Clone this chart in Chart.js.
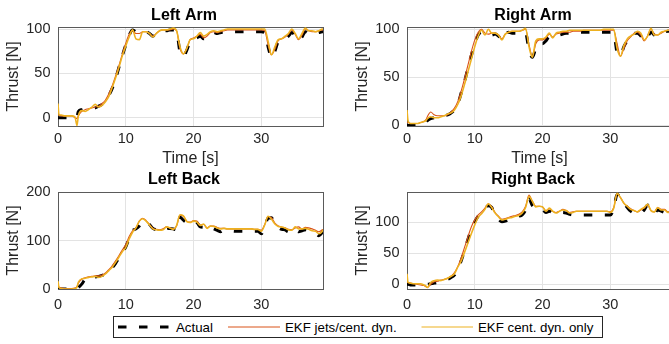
<!DOCTYPE html>
<html lang="en">
<head>
<meta charset="UTF-8">
<title>Thrust estimates</title>
<script src="https://cdn.jsdelivr.net/npm/chart.js"></script>
<style>
  html, body { margin: 0; padding: 0; background: #fff; overflow: hidden; }
  #fig { position: relative; width: 669px; height: 344px; overflow: hidden; }
  #fig canvas { position: absolute; }
  #legend { position: absolute; left: 113px; top: 316px; width: 490px; height: 22px;
            box-sizing: border-box; border: 1px solid #262626; background: #fff; }
  #legend text { font: 13.3px 'Liberation Sans', Arial, Helvetica, sans-serif; fill: #000; }
</style>
</head>
<body>
<div id="fig">
  <canvas id="leftArm" width="368" height="170" style="left:0;top:0"></canvas>
  <canvas id="rightArm" width="368" height="170" style="left:349px;top:0"></canvas>
  <canvas id="leftBack" width="368" height="178" style="left:0;top:166px"></canvas>
  <canvas id="rightBack" width="368" height="178" style="left:349px;top:166px"></canvas>
  <div id="legend">
    <svg width="488" height="20" style="display:block">
      <line x1="4" y1="10" x2="54.5" y2="10" stroke="#000" stroke-width="3" stroke-dasharray="8.5 12.5"/>
      <text x="62" y="10" dominant-baseline="central">Actual</text>
      <line x1="114" y1="10" x2="166" y2="10" stroke="#D95319" stroke-width="1"/>
      <text x="171" y="10" dominant-baseline="central">EKF jets/cent. dyn.</text>
      <line x1="307.5" y1="10" x2="359" y2="10" stroke="#EDB120" stroke-width="1.2"/>
      <text x="364" y="10" dominant-baseline="central">EKF cent. dyn. only</text>
    </svg>
  </div>
</div>

<script>
// time samples [s], shared by all panels
const T = [
  0, 0.15, 0.5, 1, 1.5, 2, 2.5, 2.8,
  3, 3.5, 4, 4.5, 5, 5.5, 6, 6.5, 7, 7.5,
  8, 8.5, 9, 9.5, 10, 10.5, 11, 11.5, 12, 12.5,
  13, 13.5, 14, 14.5, 15, 15.5, 16, 16.5, 17, 17.5,
  18, 18.5, 19, 19.5, 20, 20.5, 21, 21.5, 22, 22.5,
  23, 23.5, 24, 24.5, 25, 25.5, 26, 26.5, 27, 27.5,
  28, 28.5, 29, 29.5, 30, 30.5, 31, 31.5, 32, 32.5,
  33, 33.5, 34, 34.5, 35, 35.5, 36, 36.5, 37, 37.5,
  38, 38.5, 39, 39.1
];
const X_TICKS = [0, 10, 20, 30];

// Left Arm thrust [N]
const LA_ACTUAL = [
  0, 0, 0, 0, 0, 0, 0, 1,
  7, 9, 10, 10, 10, 11, 13, 15, 19, 25,
  33, 44, 57, 70, 82, 93, 99, 97, 96, 97,
  97, 95, 92, 95, 97, 98, 98, 99, 99, 97,
  74, 69, 76, 86, 89, 90, 92, 89, 91, 95,
  96, 95, 96, 97, 97, 97, 97, 97, 97, 97,
  97, 97, 97, 97, 97, 96, 80, 68, 75, 86,
  88, 89, 92, 96, 92, 87, 91, 97, 95, 94,
  95, 96, 97, 97
];
const LA_JETS = [
  3, 3, 2, 2, 2, 2, 0, -1,
  2, 7, 9, 10, 11, 12, 13, 16, 20, 27,
  36, 47, 59, 72, 84, 94, 98, 95, 95, 97,
  97, 95, 92, 95, 98, 99, 99, 99, 100, 98,
  78, 72, 78, 88, 90, 92, 94, 90, 92, 96,
  97, 96, 97, 98, 99, 99, 99, 99, 99, 99,
  99, 99, 99, 99, 99, 98, 82, 71, 77, 87,
  89, 91, 94, 99, 94, 88, 93, 100, 98, 97,
  97, 98, 99, 99
];
const LA_CENT = [
  16, 3, 3, 2, 2, 2, 1, -9,
  2, 8, 7, 9, 12, 15, 12, 14, 18, 24,
  34, 45, 57, 70, 81, 91, 99, 89, 88, 97,
  97, 95, 91, 95, 98, 99, 99, 100, 101, 98,
  80, 72, 78, 88, 89, 92, 96, 92, 94, 97,
  98, 97, 98, 99, 100, 100, 100, 100, 100, 100,
  100, 100, 100, 100, 100, 100, 86, 71, 80, 88,
  89, 92, 95, 100, 95, 89, 95, 101, 98, 98,
  97, 98, 100, 100
];

// Right Arm thrust [N]
const RA_ACTUAL = [
  0, 0, 0, 0, 0, 0, 1, 3,
  5, 7, 8, 9, 9, 10, 11, 13, 16, 22,
  34, 46, 60, 73, 85, 94, 97, 95, 94, 94,
  95, 93, 89, 95, 97, 96, 96, 96, 96, 96,
  78, 71, 80, 85, 85, 88, 92, 92, 93, 94,
  95, 96, 96, 96, 97, 97, 97, 97, 97, 97,
  97, 97, 97, 97, 97, 96, 76, 73, 82, 88,
  92, 96, 96, 93, 88, 92, 97, 94, 93, 94,
  97, 98, 98, 98
];
const RA_JETS = [
  3, 3, 2, 2, 2, 3, 4, 6,
  9, 14, 11, 10, 10, 10, 11, 14, 18, 25,
  36, 49, 63, 77, 89, 97, 100, 96, 95, 96,
  96, 94, 90, 95, 97, 98, 98, 98, 99, 100,
  84, 72, 85, 89, 89, 91, 95, 92, 95, 96,
  97, 97, 97, 98, 98, 98, 99, 99, 99, 99,
  99, 99, 99, 99, 99, 99, 85, 72, 80, 88,
  92, 96, 97, 94, 88, 93, 100, 95, 94, 96,
  98, 99, 99, 99
];
const RA_CENT = [
  16, 5, 2, 2, 2, 3, 4, 5,
  7, 9, 8, 8, 9, 10, 12, 13, 16, 22,
  31, 43, 56, 69, 82, 93, 99, 94, 100, 96,
  96, 94, 89, 95, 97, 98, 98, 98, 99, 101,
  82, 71, 88, 90, 90, 92, 96, 91, 96, 97,
  98, 98, 99, 99, 99, 99, 99, 99, 99, 99,
  99, 99, 100, 100, 100, 100, 80, 72, 83, 90,
  93, 95, 98, 96, 89, 93, 101, 94, 94, 97,
  98, 99, 99, 99
];

// Left Back thrust [N]
const LB_ACTUAL = [
  0, 0, 0, 0, 0, 0, 0, 1,
  3, 10, 20, 24, 25, 25, 26, 28, 31, 37,
  44, 53, 64, 76, 87, 105, 120, 124, 130, 140,
  138, 133, 125, 122, 120, 119, 124, 125, 124, 122,
  148, 142, 137, 136, 140, 137, 128, 127, 123, 127,
  124, 121, 118, 121, 120, 120, 119, 119, 119, 119,
  119, 119, 119, 119, 114, 128, 146, 147, 133, 127,
  123, 122, 118, 118, 124, 118, 120, 122, 120, 118,
  114, 110, 117, 119
];
const LB_JETS = [
  5, 4, 2, 1, 1, 1, 2, 5,
  12, 20, 23, 25, 26, 27, 27, 29, 33, 40,
  48, 58, 69, 81, 92, 108, 120, 126, 140, 146,
  141, 133, 125, 123, 122, 124, 128, 126, 124, 130,
  152, 150, 140, 138, 141, 140, 132, 133, 126, 130,
  130, 127, 125, 125, 124, 124, 124, 124, 124, 124,
  124, 124, 123, 123, 121, 133, 149, 147, 136, 130,
  128, 126, 123, 122, 126, 128, 124, 127, 126, 124,
  121, 118, 122, 123
];
const LB_CENT = [
  16, 3, 1, 0, 0, 0, 1, 4,
  14, 21, 22, 24, 25, 26, 24, 26, 31, 38,
  45, 55, 66, 77, 86, 103, 117, 126, 140, 145,
  140, 132, 124, 122, 121, 122, 128, 126, 123, 131,
  153, 151, 139, 137, 140, 138, 131, 134, 125, 130,
  129, 126, 124, 125, 124, 124, 124, 124, 124, 124,
  124, 124, 123, 123, 119, 132, 150, 144, 134, 129,
  128, 126, 122, 121, 128, 124, 124, 125, 123, 120,
  119, 114, 119, 122
];

// Right Back thrust [N]
const RB_ACTUAL = [
  0, 0, -1, -1, -1, -1, 0, 0,
  0, 1, 2, 3, 5, 6, 8, 11, 15, 24,
  38, 55, 73, 89, 101, 110, 116, 122, 127, 124,
  112, 105, 101, 102, 105, 107, 109, 110, 112, 120,
  138, 127, 124, 124, 121, 116, 118, 115, 114, 115,
  116, 115, 113, 112, 112, 112, 112, 112, 112, 112,
  112, 112, 112, 112, 112, 122, 145, 140, 131, 124,
  118, 115, 114, 115, 120, 128, 118, 115, 120, 118,
  116, 114, 115, 115
];
const RB_JETS = [
  4, 3, 2, 1, 0, -1, -2, -4,
  -5, 0, 4, 5, 7, 8, 10, 13, 19, 29,
  43, 60, 77, 93, 104, 112, 117, 123, 130, 125,
  116, 110, 105, 106, 108, 110, 111, 113, 117, 126,
  144, 134, 126, 126, 125, 119, 122, 118, 116, 118,
  121, 119, 116, 117, 118, 118, 118, 118, 118, 118,
  118, 118, 118, 118, 117, 124, 146, 140, 131, 126,
  122, 119, 117, 120, 123, 128, 119, 117, 124, 121,
  121, 117, 118, 118
];
const RB_CENT = [
  17, 3, 2, 1, 1, 1, -1, -3,
  -5, 3, 6, 7, 6, 8, 10, 13, 17, 28,
  38, 52, 67, 82, 96, 108, 114, 121, 130, 124,
  115, 109, 104, 105, 107, 108, 110, 111, 115, 124,
  142, 134, 125, 126, 125, 118, 123, 118, 115, 118,
  120, 119, 115, 116, 118, 118, 118, 118, 118, 118,
  118, 118, 118, 118, 116, 123, 147, 140, 131, 126,
  121, 119, 117, 121, 124, 129, 119, 117, 124, 120,
  120, 116, 117, 117
];

const TEXT = '#262626';
const GRID = '#e3e3e3';
const AXIS = '#5a5a5a';
Chart.defaults.font.family = "'Liberation Sans', Arial, Helvetica, sans-serif";
Chart.defaults.color = TEXT;

function series(vals) {
  return T.map((t, i) => ({ x: t, y: vals[i] }));
}

function makePanel(id, title, actual, jets, cent, yMin, yMax, yTicks, topRow) {
  new Chart(document.getElementById(id), {
    type: 'line',
    data: {
      datasets: [
        // first dataset is drawn on top
        { data: series(cent), borderColor: '#EDB120', borderWidth: 1.6 },
        { data: series(jets), borderColor: '#D95319', borderWidth: 1.1 },
        { data: series(actual), borderColor: '#000', borderWidth: 3, borderDash: [8.5, 12.5] }
      ]
    },
    options: {
      responsive: false,
      animation: false,
      events: [],
      datasets: { line: { pointRadius: 0, cubicInterpolationMode: 'monotone', fill: false } },
      layout: { padding: 0 },
      plugins: {
        legend: { display: false },
        tooltip: { enabled: false },
        title: {
          display: true, text: title, color: '#000',
          font: { size: 16, weight: 'bold' },
          padding: topRow ? { top: 6, bottom: 1.8 } : { top: 4.4, bottom: 2.4 }
        }
      },
      scales: {
        x: {
          type: 'linear', position: 'bottom', min: 0, max: 39.1,
          afterBuildTicks: s => { s.ticks = X_TICKS.map(v => ({ value: v })); },
          afterFit: s => { s.height = topRow ? 44 : 55; },
          grid: { color: GRID, drawTicks: false },
          border: { color: AXIS, width: 1 },
          ticks: { padding: topRow ? 4 : 6.8, font: { size: 14.5 }, maxRotation: 0, autoSkip: false },
          title: { display: topRow, text: 'Time [s]', font: { size: 16 }, padding: { top: 0, bottom: 1.4 } }
        },
        y: {
          type: 'linear', position: 'left', min: yMin, max: yMax,
          afterBuildTicks: s => { s.ticks = yTicks.map(v => ({ value: v })); },
          afterFit: s => { s.width = 58; },
          grid: { color: GRID, drawTicks: false },
          border: { color: AXIS, width: 1 },
          ticks: { padding: 7.5, font: { size: 14.5 } },
          title: { display: true, text: 'Thrust [N]', font: { size: 16 }, padding: { top: 4, bottom: 0 } }
        },
        // empty axes that only close the box
        x2: {
          type: 'linear', position: 'top', display: true, min: 0, max: 1,
          afterFit: s => { s.height = 0; },
          ticks: { display: false }, grid: { display: false },
          border: { color: AXIS, width: 1 }
        },
        y2: {
          type: 'linear', position: 'right', display: true, min: 0, max: 1,
          afterFit: s => { s.width = 45; },
          ticks: { display: false }, grid: { display: false },
          border: { color: AXIS, width: 1 }
        }
      }
    }
  });
}

makePanel('leftArm', 'Left Arm', LA_ACTUAL, LA_JETS, LA_CENT, -9.4, 102.3, [0, 50, 100], true);
makePanel('rightArm', 'Right Arm', RA_ACTUAL, RA_JETS, RA_CENT, -0.6, 102.4, [0, 50, 100], true);
makePanel('leftBack', 'Left Back', LB_ACTUAL, LB_JETS, LB_CENT, 0, 200, [0, 100, 200], false);
makePanel('rightBack', 'Right Back', RB_ACTUAL, RB_JETS, RB_CENT, -7.5, 149, [0, 50, 100], false);
</script>
</body>
</html>
